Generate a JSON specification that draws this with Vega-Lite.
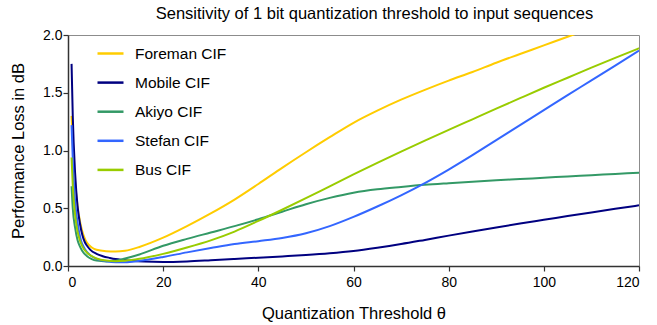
{
  "$schema": "https://vega.github.io/schema/vega-lite/v6.json",
  "width": 571,
  "height": 231,
  "autosize": "none",
  "padding": {"left": 68, "top": 35, "right": 18, "bottom": 59},
  "background": "white",
  "title": {
    "text": "Sensitivity of 1 bit quantization threshold to input sequences",
    "font": "Liberation Sans",
    "fontSize": 16.5,
    "fontWeight": "normal",
    "color": "#000000",
    "anchor": "middle",
    "frame": "group",
    "dx": 21,
    "offset": 6
  },
  "config": {
    "view": {"stroke": "#8c8c8c", "strokeWidth": 1},
    "font": "Liberation Sans",
    "axis": {
      "grid": false,
      "domainColor": "#333333",
      "domainWidth": 1.5,
      "tickColor": "#333333",
      "tickWidth": 1.2,
      "tickSize": 5,
      "labelFont": "Liberation Sans",
      "labelFontSize": 14,
      "labelColor": "#000000",
      "titleFont": "Liberation Sans",
      "titleFontSize": 16.5,
      "titleFontWeight": "normal",
      "titleColor": "#000000"
    }
  },
  "data": {
    "values": [
      {"seq": "Foreman CIF", "theta": 0.75, "loss": 1.30},
      {"seq": "Foreman CIF", "theta": 1, "loss": 1.05},
      {"seq": "Foreman CIF", "theta": 1.5, "loss": 0.72},
      {"seq": "Foreman CIF", "theta": 2, "loss": 0.52},
      {"seq": "Foreman CIF", "theta": 2.5, "loss": 0.39},
      {"seq": "Foreman CIF", "theta": 3, "loss": 0.30},
      {"seq": "Foreman CIF", "theta": 3.6, "loss": 0.23},
      {"seq": "Foreman CIF", "theta": 4, "loss": 0.20},
      {"seq": "Foreman CIF", "theta": 5, "loss": 0.16},
      {"seq": "Foreman CIF", "theta": 6, "loss": 0.14},
      {"seq": "Foreman CIF", "theta": 8, "loss": 0.128},
      {"seq": "Foreman CIF", "theta": 10, "loss": 0.125},
      {"seq": "Foreman CIF", "theta": 12, "loss": 0.132},
      {"seq": "Foreman CIF", "theta": 15, "loss": 0.165},
      {"seq": "Foreman CIF", "theta": 20, "loss": 0.245},
      {"seq": "Foreman CIF", "theta": 25, "loss": 0.345},
      {"seq": "Foreman CIF", "theta": 30, "loss": 0.455},
      {"seq": "Foreman CIF", "theta": 35, "loss": 0.575},
      {"seq": "Foreman CIF", "theta": 40, "loss": 0.71},
      {"seq": "Foreman CIF", "theta": 45, "loss": 0.85},
      {"seq": "Foreman CIF", "theta": 50, "loss": 0.985},
      {"seq": "Foreman CIF", "theta": 55, "loss": 1.115},
      {"seq": "Foreman CIF", "theta": 60, "loss": 1.24},
      {"seq": "Foreman CIF", "theta": 65, "loss": 1.345},
      {"seq": "Foreman CIF", "theta": 70, "loss": 1.44},
      {"seq": "Foreman CIF", "theta": 75, "loss": 1.525},
      {"seq": "Foreman CIF", "theta": 80, "loss": 1.605},
      {"seq": "Foreman CIF", "theta": 85, "loss": 1.68},
      {"seq": "Foreman CIF", "theta": 90, "loss": 1.76},
      {"seq": "Foreman CIF", "theta": 95, "loss": 1.835},
      {"seq": "Foreman CIF", "theta": 100, "loss": 1.91},
      {"seq": "Foreman CIF", "theta": 105, "loss": 1.985},
      {"seq": "Foreman CIF", "theta": 110, "loss": 2.06},

      {"seq": "Mobile CIF", "theta": 0.75, "loss": 1.75},
      {"seq": "Mobile CIF", "theta": 1, "loss": 1.30},
      {"seq": "Mobile CIF", "theta": 1.5, "loss": 0.80},
      {"seq": "Mobile CIF", "theta": 2, "loss": 0.52},
      {"seq": "Mobile CIF", "theta": 2.5, "loss": 0.37},
      {"seq": "Mobile CIF", "theta": 3, "loss": 0.27},
      {"seq": "Mobile CIF", "theta": 3.5, "loss": 0.21},
      {"seq": "Mobile CIF", "theta": 4, "loss": 0.175},
      {"seq": "Mobile CIF", "theta": 4.7, "loss": 0.14},
      {"seq": "Mobile CIF", "theta": 6, "loss": 0.105},
      {"seq": "Mobile CIF", "theta": 7.3, "loss": 0.085},
      {"seq": "Mobile CIF", "theta": 8.8, "loss": 0.07},
      {"seq": "Mobile CIF", "theta": 10, "loss": 0.06},
      {"seq": "Mobile CIF", "theta": 13, "loss": 0.046},
      {"seq": "Mobile CIF", "theta": 16, "loss": 0.038},
      {"seq": "Mobile CIF", "theta": 20, "loss": 0.035},
      {"seq": "Mobile CIF", "theta": 25, "loss": 0.04},
      {"seq": "Mobile CIF", "theta": 30, "loss": 0.05},
      {"seq": "Mobile CIF", "theta": 35, "loss": 0.061},
      {"seq": "Mobile CIF", "theta": 40, "loss": 0.072},
      {"seq": "Mobile CIF", "theta": 45, "loss": 0.083},
      {"seq": "Mobile CIF", "theta": 50, "loss": 0.095},
      {"seq": "Mobile CIF", "theta": 55, "loss": 0.11},
      {"seq": "Mobile CIF", "theta": 60, "loss": 0.13},
      {"seq": "Mobile CIF", "theta": 65, "loss": 0.158},
      {"seq": "Mobile CIF", "theta": 70, "loss": 0.19},
      {"seq": "Mobile CIF", "theta": 75, "loss": 0.226},
      {"seq": "Mobile CIF", "theta": 80, "loss": 0.263},
      {"seq": "Mobile CIF", "theta": 85, "loss": 0.299},
      {"seq": "Mobile CIF", "theta": 90, "loss": 0.334},
      {"seq": "Mobile CIF", "theta": 95, "loss": 0.368},
      {"seq": "Mobile CIF", "theta": 100, "loss": 0.40},
      {"seq": "Mobile CIF", "theta": 105, "loss": 0.432},
      {"seq": "Mobile CIF", "theta": 110, "loss": 0.464},
      {"seq": "Mobile CIF", "theta": 115, "loss": 0.495},
      {"seq": "Mobile CIF", "theta": 120, "loss": 0.525},

      {"seq": "Akiyo CIF", "theta": 0.75, "loss": 0.69},
      {"seq": "Akiyo CIF", "theta": 1, "loss": 0.50},
      {"seq": "Akiyo CIF", "theta": 1.5, "loss": 0.33},
      {"seq": "Akiyo CIF", "theta": 2, "loss": 0.225},
      {"seq": "Akiyo CIF", "theta": 2.5, "loss": 0.17},
      {"seq": "Akiyo CIF", "theta": 3, "loss": 0.13},
      {"seq": "Akiyo CIF", "theta": 4, "loss": 0.085},
      {"seq": "Akiyo CIF", "theta": 5, "loss": 0.06},
      {"seq": "Akiyo CIF", "theta": 6, "loss": 0.047},
      {"seq": "Akiyo CIF", "theta": 8, "loss": 0.04},
      {"seq": "Akiyo CIF", "theta": 10, "loss": 0.045},
      {"seq": "Akiyo CIF", "theta": 12, "loss": 0.065},
      {"seq": "Akiyo CIF", "theta": 15, "loss": 0.10},
      {"seq": "Akiyo CIF", "theta": 20, "loss": 0.175},
      {"seq": "Akiyo CIF", "theta": 25, "loss": 0.235},
      {"seq": "Akiyo CIF", "theta": 30, "loss": 0.29},
      {"seq": "Akiyo CIF", "theta": 35, "loss": 0.345},
      {"seq": "Akiyo CIF", "theta": 40, "loss": 0.405},
      {"seq": "Akiyo CIF", "theta": 45, "loss": 0.47},
      {"seq": "Akiyo CIF", "theta": 50, "loss": 0.535},
      {"seq": "Akiyo CIF", "theta": 55, "loss": 0.59},
      {"seq": "Akiyo CIF", "theta": 60, "loss": 0.635},
      {"seq": "Akiyo CIF", "theta": 65, "loss": 0.665},
      {"seq": "Akiyo CIF", "theta": 70, "loss": 0.685},
      {"seq": "Akiyo CIF", "theta": 75, "loss": 0.703},
      {"seq": "Akiyo CIF", "theta": 80, "loss": 0.717},
      {"seq": "Akiyo CIF", "theta": 85, "loss": 0.73},
      {"seq": "Akiyo CIF", "theta": 90, "loss": 0.742},
      {"seq": "Akiyo CIF", "theta": 95, "loss": 0.753},
      {"seq": "Akiyo CIF", "theta": 100, "loss": 0.764},
      {"seq": "Akiyo CIF", "theta": 105, "loss": 0.775},
      {"seq": "Akiyo CIF", "theta": 110, "loss": 0.786},
      {"seq": "Akiyo CIF", "theta": 115, "loss": 0.797},
      {"seq": "Akiyo CIF", "theta": 120, "loss": 0.808},

      {"seq": "Stefan CIF", "theta": 0.75, "loss": 1.22},
      {"seq": "Stefan CIF", "theta": 1, "loss": 0.93},
      {"seq": "Stefan CIF", "theta": 1.5, "loss": 0.56},
      {"seq": "Stefan CIF", "theta": 2, "loss": 0.38},
      {"seq": "Stefan CIF", "theta": 2.7, "loss": 0.225},
      {"seq": "Stefan CIF", "theta": 3.5, "loss": 0.15},
      {"seq": "Stefan CIF", "theta": 4.5, "loss": 0.10},
      {"seq": "Stefan CIF", "theta": 6, "loss": 0.062},
      {"seq": "Stefan CIF", "theta": 8, "loss": 0.042},
      {"seq": "Stefan CIF", "theta": 10, "loss": 0.033},
      {"seq": "Stefan CIF", "theta": 12, "loss": 0.033},
      {"seq": "Stefan CIF", "theta": 15, "loss": 0.045},
      {"seq": "Stefan CIF", "theta": 20, "loss": 0.078},
      {"seq": "Stefan CIF", "theta": 25, "loss": 0.118},
      {"seq": "Stefan CIF", "theta": 30, "loss": 0.155},
      {"seq": "Stefan CIF", "theta": 35, "loss": 0.19},
      {"seq": "Stefan CIF", "theta": 40, "loss": 0.215},
      {"seq": "Stefan CIF", "theta": 45, "loss": 0.242},
      {"seq": "Stefan CIF", "theta": 50, "loss": 0.283},
      {"seq": "Stefan CIF", "theta": 55, "loss": 0.345},
      {"seq": "Stefan CIF", "theta": 60, "loss": 0.425},
      {"seq": "Stefan CIF", "theta": 65, "loss": 0.515},
      {"seq": "Stefan CIF", "theta": 70, "loss": 0.612},
      {"seq": "Stefan CIF", "theta": 75, "loss": 0.718},
      {"seq": "Stefan CIF", "theta": 80, "loss": 0.835},
      {"seq": "Stefan CIF", "theta": 85, "loss": 0.96},
      {"seq": "Stefan CIF", "theta": 90, "loss": 1.09},
      {"seq": "Stefan CIF", "theta": 95, "loss": 1.22},
      {"seq": "Stefan CIF", "theta": 100, "loss": 1.35},
      {"seq": "Stefan CIF", "theta": 105, "loss": 1.48},
      {"seq": "Stefan CIF", "theta": 110, "loss": 1.607},
      {"seq": "Stefan CIF", "theta": 115, "loss": 1.735},
      {"seq": "Stefan CIF", "theta": 120, "loss": 1.865},

      {"seq": "Bus CIF", "theta": 0.75, "loss": 0.94},
      {"seq": "Bus CIF", "theta": 1, "loss": 0.70},
      {"seq": "Bus CIF", "theta": 1.5, "loss": 0.44},
      {"seq": "Bus CIF", "theta": 2, "loss": 0.30},
      {"seq": "Bus CIF", "theta": 2.4, "loss": 0.235},
      {"seq": "Bus CIF", "theta": 3, "loss": 0.17},
      {"seq": "Bus CIF", "theta": 4, "loss": 0.115},
      {"seq": "Bus CIF", "theta": 5, "loss": 0.085},
      {"seq": "Bus CIF", "theta": 6, "loss": 0.065},
      {"seq": "Bus CIF", "theta": 8, "loss": 0.047},
      {"seq": "Bus CIF", "theta": 10, "loss": 0.042},
      {"seq": "Bus CIF", "theta": 12, "loss": 0.046},
      {"seq": "Bus CIF", "theta": 15, "loss": 0.062},
      {"seq": "Bus CIF", "theta": 20, "loss": 0.105},
      {"seq": "Bus CIF", "theta": 25, "loss": 0.16},
      {"seq": "Bus CIF", "theta": 30, "loss": 0.222},
      {"seq": "Bus CIF", "theta": 35, "loss": 0.298},
      {"seq": "Bus CIF", "theta": 40, "loss": 0.39},
      {"seq": "Bus CIF", "theta": 45, "loss": 0.487},
      {"seq": "Bus CIF", "theta": 50, "loss": 0.587},
      {"seq": "Bus CIF", "theta": 55, "loss": 0.69},
      {"seq": "Bus CIF", "theta": 60, "loss": 0.793},
      {"seq": "Bus CIF", "theta": 65, "loss": 0.893},
      {"seq": "Bus CIF", "theta": 70, "loss": 0.99},
      {"seq": "Bus CIF", "theta": 75, "loss": 1.085},
      {"seq": "Bus CIF", "theta": 80, "loss": 1.178},
      {"seq": "Bus CIF", "theta": 85, "loss": 1.27},
      {"seq": "Bus CIF", "theta": 90, "loss": 1.362},
      {"seq": "Bus CIF", "theta": 95, "loss": 1.453},
      {"seq": "Bus CIF", "theta": 100, "loss": 1.543},
      {"seq": "Bus CIF", "theta": 105, "loss": 1.63},
      {"seq": "Bus CIF", "theta": 110, "loss": 1.717},
      {"seq": "Bus CIF", "theta": 115, "loss": 1.802},
      {"seq": "Bus CIF", "theta": 120, "loss": 1.885}
    ]
  },
  "mark": {"type": "line", "strokeWidth": 2, "interpolate": "monotone", "clip": true},
  "encoding": {
    "x": {
      "field": "theta",
      "type": "quantitative",
      "scale": {"domain": [0, 120], "nice": false, "zero": false},
      "axis": {
        "title": "Quantization Threshold θ",
        "values": [0, 20, 40, 60, 80, 100, 120],
        "labelPadding": 4,
        "titlePadding": 16
      }
    },
    "y": {
      "field": "loss",
      "type": "quantitative",
      "scale": {"domain": [0, 2], "nice": false},
      "axis": {
        "title": "Performance Loss in dB",
        "values": [0, 0.5, 1, 1.5, 2],
        "format": ".1f",
        "labelPadding": 1,
        "titlePadding": 16
      }
    },
    "color": {
      "field": "seq",
      "type": "nominal",
      "sort": null,
      "scale": {
        "domain": ["Foreman CIF", "Mobile CIF", "Akiyo CIF", "Stefan CIF", "Bus CIF"],
        "range": ["#FFCC00", "#000080", "#339966", "#3366FF", "#99CC00"]
      },
      "legend": {
        "title": null,
        "orient": "none",
        "legendX": 28,
        "legendY": 4,
        "padding": 0,
        "symbolType": "stroke",
        "symbolSize": 676,
        "symbolStrokeWidth": 2.5,
        "rowPadding": 6.1,
        "labelOffset": 10,
        "labelFont": "Liberation Sans",
        "labelFontSize": 15.5,
        "labelColor": "#000000"
      }
    }
  }
}
